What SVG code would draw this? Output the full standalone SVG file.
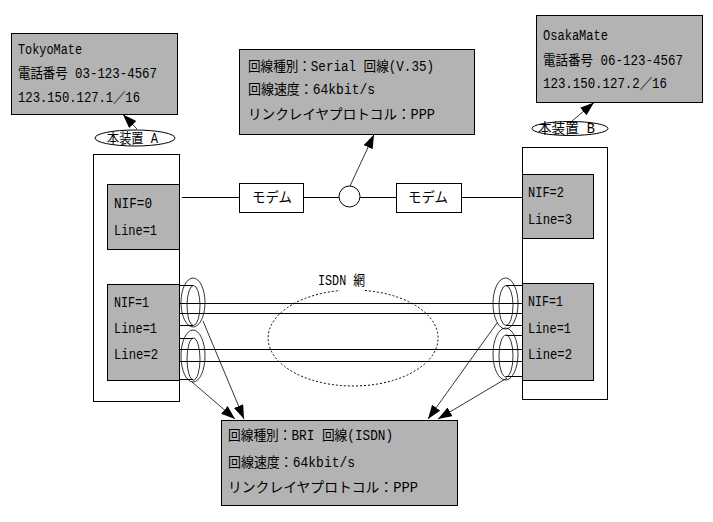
<svg xmlns="http://www.w3.org/2000/svg" width="713" height="522" viewBox="0 0 713 522">
<defs>
<style>
.box{fill:#b3b3b3;stroke:#000;stroke-width:1}
.wbox{fill:#fff;stroke:#000;stroke-width:1}
.ln{fill:none;stroke:#000;stroke-width:1}
.thin{fill:none;stroke:#000;stroke-width:0.8}
.dot{fill:none;stroke:#000;stroke-width:1;stroke-dasharray:2 2}
.t{font-family:"Liberation Mono","Noto Sans CJK JP",monospace;font-size:14px;fill:#000}
.m{font-family:"Noto Sans CJK JP",sans-serif;font-size:14px;fill:#000;text-anchor:middle}
</style>
<marker id="ah" markerUnits="userSpaceOnUse" markerWidth="15" markerHeight="12" refX="14" refY="5" orient="auto">
<path d="M0,0 L14,5 L0,10 z" fill="#000"/>
</marker>
</defs>
<rect width="713" height="522" fill="#fff"/>

<g id="deviceA"><rect class="wbox" x="93.5" y="154.5" width="86" height="247"/></g>
<g id="deviceB"><rect class="wbox" x="522.5" y="147.5" width="85" height="252"/></g>

<g id="tokyo">
<rect class="box" x="11.5" y="33.5" width="166" height="81"/>
<text class="t" x="18" y="54" textLength="64" lengthAdjust="spacingAndGlyphs">TokyoMate</text>
<text class="t" x="18" y="78" textLength="139" lengthAdjust="spacingAndGlyphs">電話番号 03-123-4567</text>
<text class="t" x="18" y="102" textLength="122" lengthAdjust="spacingAndGlyphs">123.150.127.1／16</text>
</g>

<g id="osaka">
<rect class="box" x="536.5" y="15.5" width="166" height="87"/>
<text class="t" x="543" y="40" textLength="65" lengthAdjust="spacingAndGlyphs">OsakaMate</text>
<text class="t" x="543" y="65" textLength="140" lengthAdjust="spacingAndGlyphs">電話番号 06-123-4567</text>
<text class="t" x="543" y="88" textLength="124" lengthAdjust="spacingAndGlyphs">123.150.127.2／16</text>
</g>

<g id="serial-info">
<rect class="box" x="239.5" y="49.5" width="235" height="85"/>
<text class="t" x="248" y="71" textLength="186" lengthAdjust="spacingAndGlyphs">回線種別：Serial 回線(V.35)</text>
<text class="t" x="248" y="94" textLength="127" lengthAdjust="spacingAndGlyphs">回線速度：64kbit/s</text>
<text class="t" x="248" y="119" textLength="187" lengthAdjust="spacingAndGlyphs">リンクレイヤプロトコル：PPP</text>
</g>

<g id="bri-info">
<rect class="box" x="221.5" y="420.5" width="236" height="85"/>
<text class="t" x="228" y="440" textLength="165" lengthAdjust="spacingAndGlyphs">回線種別：BRI 回線(ISDN)</text>
<text class="t" x="228" y="467" textLength="127" lengthAdjust="spacingAndGlyphs">回線速度：64kbit/s</text>
<text class="t" x="228" y="492" textLength="190" lengthAdjust="spacingAndGlyphs">リンクレイヤプロトコル：PPP</text>
</g>

<g id="labelA">
<ellipse class="ln" cx="135" cy="138" rx="40" ry="8"/>
<text class="t" x="107" y="143" textLength="51" lengthAdjust="spacingAndGlyphs">本装置 A</text>
</g>
<g id="labelB">
<ellipse class="ln" cx="570" cy="128.5" rx="38" ry="7"/>
<text class="t" x="538" y="133" textLength="57" lengthAdjust="spacingAndGlyphs">本装置 B</text>
</g>

<g id="nif0">
<rect class="box" x="107.5" y="184.5" width="72" height="65"/>
<text class="t" x="114" y="208" textLength="38" lengthAdjust="spacingAndGlyphs">NIF=0</text>
<text class="t" x="114" y="235" textLength="43" lengthAdjust="spacingAndGlyphs">Line=1</text>
</g>
<g id="nif1A">
<rect class="box" x="107.5" y="284.5" width="72" height="96"/>
<text class="t" x="114" y="307" textLength="35" lengthAdjust="spacingAndGlyphs">NIF=1</text>
<text class="t" x="114" y="333" textLength="43" lengthAdjust="spacingAndGlyphs">Line=1</text>
<text class="t" x="114" y="359" textLength="44" lengthAdjust="spacingAndGlyphs">Line=2</text>
</g>
<g id="nif2">
<rect class="box" x="522.5" y="174.5" width="71" height="64"/>
<text class="t" x="528" y="197" textLength="36" lengthAdjust="spacingAndGlyphs">NIF=2</text>
<text class="t" x="528" y="224" textLength="44" lengthAdjust="spacingAndGlyphs">Line=3</text>
</g>
<g id="nif1B">
<rect class="box" x="522.5" y="283.5" width="71" height="97"/>
<text class="t" x="528" y="306" textLength="35" lengthAdjust="spacingAndGlyphs">NIF=1</text>
<text class="t" x="528" y="333" textLength="43" lengthAdjust="spacingAndGlyphs">Line=1</text>
<text class="t" x="528" y="359" textLength="44" lengthAdjust="spacingAndGlyphs">Line=2</text>
</g>

<g id="modem1">
<rect class="wbox" x="239.5" y="183.5" width="64" height="29"/>
<text class="m" x="272" y="202" textLength="40" lengthAdjust="spacingAndGlyphs">モデム</text>
</g>
<g id="modem2">
<rect class="wbox" x="396.5" y="183.5" width="65" height="29"/>
<text class="m" x="428" y="202" textLength="40" lengthAdjust="spacingAndGlyphs">モデム</text>
</g>
<g id="junction"><circle class="wbox" cx="349.5" cy="196.5" r="10.5"/></g>

<g id="isdn">
<path class="dot" d="M365,290.5 A85,48 0 1 1 340,290.6"/>
<text class="t" x="318" y="285" textLength="47" lengthAdjust="spacingAndGlyphs">ISDN 網</text>
</g>

<g id="connectors">
<line class="ln" x1="182" y1="197.5" x2="239.5" y2="197.5"/>
<line class="ln" x1="303.5" y1="197.5" x2="339" y2="197.5"/>
<line class="ln" x1="360" y1="197.5" x2="396.5" y2="197.5"/>
<line class="ln" x1="461.5" y1="197.5" x2="522.5" y2="197.5"/>
<line class="ln" x1="180" y1="303.5" x2="522" y2="303.5"/>
<line class="ln" x1="180" y1="313.5" x2="522" y2="313.5"/>
<line class="ln" x1="180" y1="349.5" x2="522" y2="349.5"/>
<line class="ln" x1="180" y1="361.5" x2="522" y2="361.5"/>
<line class="thin" x1="350" y1="186" x2="374" y2="134.5" marker-end="url(#ah)"/>
<line class="thin" x1="137" y1="129" x2="123" y2="114.5" marker-end="url(#ah)"/>
<line class="thin" x1="572" y1="121" x2="594" y2="102.5" marker-end="url(#ah)"/>
<line class="thin" x1="203" y1="321" x2="244" y2="419" marker-end="url(#ah)"/>
<line class="thin" x1="192" y1="382" x2="235" y2="419" marker-end="url(#ah)"/>
<line class="thin" x1="497" y1="323" x2="428" y2="419" marker-end="url(#ah)"/>
<line class="thin" x1="507" y1="378" x2="438" y2="419" marker-end="url(#ah)"/>
</g>

<g id="coils">
<g id="coilA1">
<ellipse class="thin" cx="193" cy="302.5" rx="12" ry="24.5"/>
<ellipse class="thin" cx="193.5" cy="305.5" rx="6.5" ry="20"/>
<line class="ln" x1="179.5" y1="285.5" x2="193" y2="285.5"/>
<line class="ln" x1="179.5" y1="325.5" x2="193" y2="325.5"/>
</g>
<g id="coilA2">
<ellipse class="thin" cx="193" cy="356" rx="12" ry="26"/>
<ellipse class="thin" cx="193.5" cy="359" rx="6.5" ry="21"/>
<line class="ln" x1="179.5" y1="338.5" x2="193" y2="338.5"/>
<line class="ln" x1="179.5" y1="379.5" x2="193" y2="379.5"/>
</g>
<g id="coilB1">
<ellipse class="thin" cx="505.5" cy="303.5" rx="12.5" ry="25.5"/>
<ellipse class="thin" cx="506" cy="305.5" rx="7" ry="20"/>
<line class="ln" x1="506" y1="285.5" x2="522.5" y2="285.5"/>
<line class="ln" x1="506" y1="325.5" x2="522.5" y2="325.5"/>
</g>
<g id="coilB2">
<ellipse class="thin" cx="505.5" cy="354" rx="12.5" ry="26"/>
<ellipse class="thin" cx="506" cy="356" rx="7" ry="21"/>
<line class="ln" x1="506" y1="335.5" x2="522.5" y2="335.5"/>
<line class="ln" x1="506" y1="376.5" x2="522.5" y2="376.5"/>
</g>
</g>
</svg>
